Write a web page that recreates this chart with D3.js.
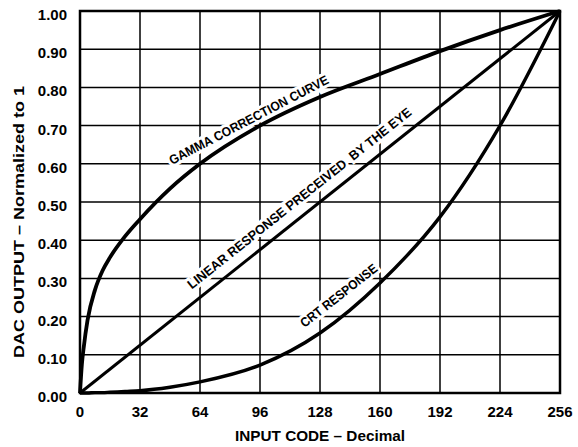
<!DOCTYPE html>
<html>
<head>
<meta charset="utf-8">
<script src="https://cdn.jsdelivr.net/npm/d3@7"></script>
<style>
  body { margin: 0; background: #fff; }
  text { font-family: "Liberation Sans", Arial, sans-serif; font-weight: bold; fill: #000; }
</style>
</head>
<body>
<svg id="chart" width="578" height="447"></svg>
<script>
// input codes sampled along the curves
const codes = [0, 1, 2, 4, 8, 12, 16, 24, 32, 48, 64, 96, 128, 160, 192, 224, 256];
const gammaCurve = [0, 0.075, 0.12, 0.19, 0.27, 0.32, 0.355, 0.41, 0.455, 0.535, 0.60, 0.70, 0.775, 0.835, 0.895, 0.95, 1.0];
const crtResponse = [0, 0, 0, 0, 0.001, 0.001, 0.002, 0.004, 0.006, 0.015, 0.029, 0.073, 0.157, 0.288, 0.461, 0.70, 1.0];
const linearCodes = [0, 256];
const linearResponse = [0, 1];

const xTicks = [0, 32, 64, 96, 128, 160, 192, 224, 256];
const yTicks = [0, 0.1, 0.2, 0.3, 0.4, 0.5, 0.6, 0.7, 0.8, 0.9, 1.0];

const curveLabels = ['GAMMA CORRECTION CURVE', 'LINEAR RESPONSE PRECEIVED  BY THE EYE', 'CRT RESPONSE'];
const labelCodes = [90, 117, 138];
const labelValues = [0.715, 0.51, 0.255];

const svg = d3.select('#chart');
const margin = {top: 11, right: 18, bottom: 54, left: 80};
const width = 578 - margin.left - margin.right;
const height = 447 - margin.top - margin.bottom;

const x = d3.scaleLinear().domain([0, 256]).range([0, width]);
const y = d3.scaleLinear().domain([0, 1]).range([height, 0]);

const g = svg.append('g').attr('transform', `translate(${margin.left},${margin.top})`);

// grid
g.append('g')
  .selectAll('line')
  .data(xTicks.slice(1, -1))
  .join('line')
  .attr('x1', d => x(d)).attr('x2', d => x(d))
  .attr('y1', 0).attr('y2', height)
  .attr('stroke', '#000').attr('stroke-width', 1.5);
g.append('g')
  .selectAll('line')
  .data(yTicks.slice(1, -1))
  .join('line')
  .attr('y1', d => y(d)).attr('y2', d => y(d))
  .attr('x1', 0).attr('x2', width)
  .attr('stroke', '#000').attr('stroke-width', 1.5);

// tick labels
g.append('g')
  .selectAll('text')
  .data(yTicks)
  .join('text')
  .attr('x', -13)
  .attr('y', d => y(d) + 9)
  .attr('text-anchor', 'end')
  .style('font-size', '15px')
  .text(d => d3.format('.2f')(d));
g.append('g')
  .selectAll('text')
  .data(xTicks)
  .join('text')
  .attr('x', d => x(d))
  .attr('y', height + 24)
  .attr('text-anchor', 'middle')
  .style('font-size', '15px')
  .text(d => d);

// axis titles
g.append('text')
  .attr('x', width / 2)
  .attr('y', height + 48)
  .attr('text-anchor', 'middle')
  .style('font-size', '15px')
  .attr('textLength', 170)
  .attr('lengthAdjust', 'spacingAndGlyphs')
  .text('INPUT CODE \u2013 Decimal');
g.append('text')
  .attr('transform', `translate(${-56},${211}) rotate(-90)`)
  .attr('text-anchor', 'middle')
  .style('font-size', '15px')
  .attr('textLength', 272)
  .attr('lengthAdjust', 'spacingAndGlyphs')
  .text('DAC OUTPUT \u2013 Normalized to 1');

// curve labels, white halo breaks the grid behind them
const labelAngles = [-27.5, -38.5, -38];
const labelLengths = [178, 282, 94];
g.append('g')
  .selectAll('text')
  .data(curveLabels)
  .join('text')
  .attr('transform', (d, i) => `translate(${x(labelCodes[i])},${y(labelValues[i])}) rotate(${labelAngles[i]})`)
  .attr('text-anchor', 'middle')
  .attr('dominant-baseline', 'central')
  .style('font-size', '13px')
  .style('white-space', 'pre')
  .attr('textLength', (d, i) => labelLengths[i])
  .attr('lengthAdjust', 'spacingAndGlyphs')
  .attr('stroke', '#fff')
  .attr('stroke-width', 6)
  .attr('paint-order', 'stroke')
  .text(d => d);

// curves
const line = d3.line()
  .x(d => x(d[0]))
  .y(d => y(d[1]))
  .curve(d3.curveMonotoneX);

g.append('path')
  .attr('d', line(codes.map((c, i) => [c, gammaCurve[i]])))
  .attr('fill', 'none').attr('stroke', '#000').attr('stroke-width', 3.8);
g.append('path')
  .attr('d', line(codes.map((c, i) => [c, crtResponse[i]])))
  .attr('fill', 'none').attr('stroke', '#000').attr('stroke-width', 3.4);
g.append('path')
  .attr('d', line(linearCodes.map((c, i) => [c, linearResponse[i]])))
  .attr('fill', 'none').attr('stroke', '#000').attr('stroke-width', 3);

// frame
g.append('rect')
  .attr('width', width).attr('height', height)
  .attr('fill', 'none').attr('stroke', '#000').attr('stroke-width', 2.5);
</script>
</body>
</html>
